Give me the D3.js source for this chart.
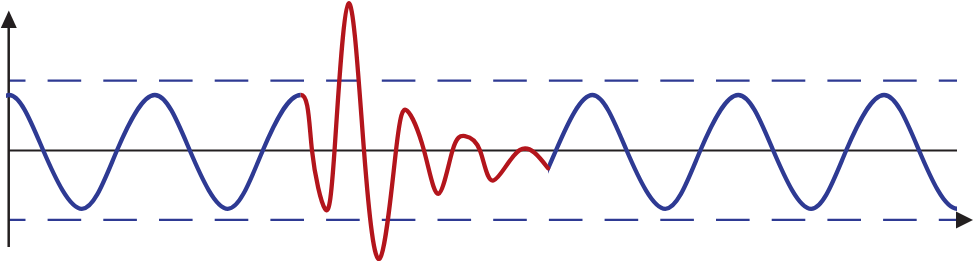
<!DOCTYPE html>
<html>
<head>
<meta charset="utf-8">
<script src="https://cdn.jsdelivr.net/npm/d3@7"></script>
<style>
  html, body { margin: 0; padding: 0; background: #ffffff; }
  svg { display: block; }
</style>
</head>
<body>
<script>
// ---- data (time in half-periods of the carrier, amplitude in carrier units) ----
// carrier wave: extrema and zero crossings
const carrierT = [-0.5, 0, 0.47, 1, 1.48, 2, 2.48, 3, 3.48, 4, 4.5, 5, 5.5, 6, 6.5, 7, 7.5, 8, 8.47, 9, 9.48, 10, 10.48, 11, 11.48, 12, 12.48, 13, 13.5];
const carrierV = [0, 1, 0, -1.05, 0, 1, 0, -1.05, 0, 1, 0, -1.05, 0, 1, 0, -1.05, 0, 1, 0, -1.05, 0, 1, 0, -1.05, 0, 1, 0, -1.05, 0];
// disturbance (red) segment
const pulseT = [4.0, 4.155, 4.333, 4.464, 4.656, 4.868, 5.088, 5.307, 5.458, 5.691, 5.89, 6.082, 6.253, 6.459, 6.644, 7.008, 7.392];
const pulseV = [1, 0, -1.05, 0, 2.65, 0, -1.94, 0, 0.72, 0, -0.78, 0, 0.26, 0, -0.54, 0.01, -0.32];
// reference levels (dashed) and axis
const levels = [1.26, -1.25];
const tRange = [0, 13];
const pulseWindow = [4.0, 7.392];

const W = 973, H = 262;
const blue = "#2e3a93", red = "#b3151c", axisCol = "#231f20";

const x = d3.scaleLinear().domain(tRange).range([9, 957]);
const y = d3.scaleLinear().domain([-1, 1]).range([206, 95]);

const svg = d3.select("body").append("svg").attr("width", W).attr("height", H);
const defs = svg.append("defs");

// clip for carrier: visible outside the pulse window, within the plotted range
const cpBlue = defs.append("clipPath").attr("id", "cpBlue");
cpBlue.append("rect").attr("x", x(tRange[0]) - 3).attr("y", 0).attr("width", x(pulseWindow[0]) - x(tRange[0]) + 3).attr("height", H);
cpBlue.append("rect").attr("x", x(pulseWindow[1])).attr("y", 0).attr("width", x(tRange[1]) - x(pulseWindow[1])).attr("height", H);
const cpRed = defs.append("clipPath").attr("id", "cpRed");
cpRed.append("rect").attr("x", x(pulseWindow[0])).attr("y", 0).attr("width", x(pulseWindow[1]) - x(pulseWindow[0]) + 4).attr("height", H);

// dashed levels
svg.selectAll("line.level").data(levels).join("line")
  .attr("class", "level")
  .attr("x1", x(tRange[0])).attr("x2", x(tRange[1]))
  .attr("y1", d => y(d)).attr("y2", d => y(d))
  .attr("stroke", blue).attr("stroke-width", 2.3)
  .attr("stroke-dasharray", "33.6 22.1").attr("stroke-dashoffset", 17.1);

// horizontal axis (zero line)
svg.append("line")
  .attr("x1", x(tRange[0])).attr("x2", x(tRange[1]))
  .attr("y1", y(0)).attr("y2", y(0))
  .attr("stroke", axisCol).attr("stroke-width", 2);

// vertical axis with arrow
svg.append("line")
  .attr("x1", 8.7).attr("x2", 8.7).attr("y1", 247).attr("y2", 26)
  .attr("stroke", axisCol).attr("stroke-width", 2.5);
svg.append("path").attr("d", "M8.8,10.5 L16.8,28 L0.8,28 Z").attr("fill", axisCol);

// arrow at right end of lower level line
const ay = y(levels[1]);
svg.append("path").attr("d", `M956,${ay - 8.5} L973,${ay} L956,${ay + 8.5} Z`).attr("fill", axisCol);

const line = d3.line().x(d => x(d[0])).y(d => y(d[1])).curve(d3.curveNatural);

const carrier = carrierT.map((t, i) => [t, carrierV[i]]);
const pulse = pulseT.map((t, i) => [t, pulseV[i]]);

svg.append("path").datum(carrier)
  .attr("d", line).attr("clip-path", "url(#cpBlue)")
  .attr("fill", "none").attr("stroke", blue).attr("stroke-width", 4.3);

const redPts = carrier.filter(d => d[0] < pulseT[0] && d[0] >= pulseT[0] - 1).concat(pulse);
svg.append("path").datum(redPts)
  .attr("d", line).attr("clip-path", "url(#cpRed)")
  .attr("fill", "none").attr("stroke", red).attr("stroke-width", 4.3)
  .attr("stroke-linecap", "round").attr("stroke-linejoin", "round");
</script>
</body>
</html>
